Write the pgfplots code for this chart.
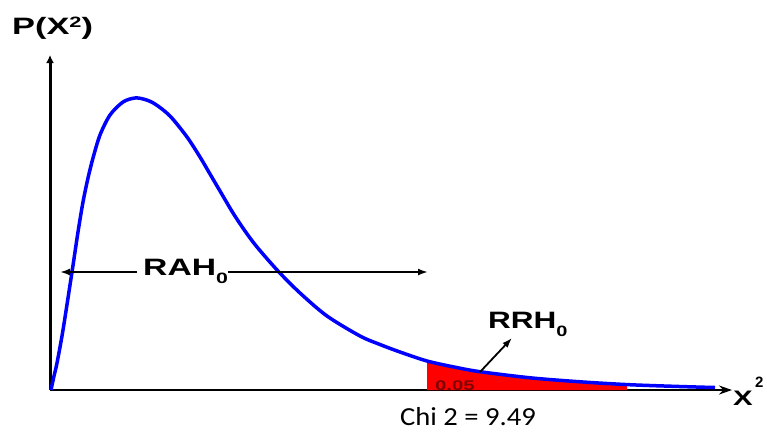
\documentclass[border=0pt]{standalone}
\usepackage{pgfplots}
\pgfplotsset{compat=1.18}
\usepackage{graphicx}
\usepackage{fontspec}
\usetikzlibrary{arrows.meta}
\setmainfont{Liberation Sans}
\newfontfamily\calib{Carlito}
\definecolor{tailred}{RGB}{255,0,0}
\definecolor{darkred}{RGB}{125,0,0}

% chi-square curve (x: pixels from origin, y: height)
\pgfplotstableread{
x y
1 0
4 14
7 27
13 60
22 118
28 158
33 188
38 212
43 232
50 255
60 275
73 288
85 292
95 290.5
105 286
120 274
137 253
150 233
160 216
170 199
183 177
195 159
207 143
228 119
250 97
277 74
310 54
330 45.5
350 38
377 29
405 22.8
430 18.3
480 12.2
530 8.2
577 5.4
620 3.8
653 2.8
665 2.5
}\curve

\begin{document}
\begin{tikzpicture}
\begin{axis}[
    x=1pt, y=1pt,
    xmin=0, xmax=682,
    ymin=0, ymax=335,
    enlargelimits=false,
    axis lines=left,
    ticks=none,
    clip=false,
    x axis line style={line width=2.3pt, -{Stealth[length=13pt,width=9pt]}},
    y axis line style={line width=3pt, -{Latex[length=8pt,width=8pt]}},
]
% rejection region
\addplot[draw=none, fill=tailred] coordinates {
    (377,0) (377,29) (405,22.8) (430,18.3) (480,12.2) (530,8.2) (577,5.4) (577,0)
} -- cycle;
\draw[line width=1pt, black!70] (axis cs:377,0) -- (axis cs:377,29);

\addplot[blue, line width=3.5pt, smooth, tension=0.5] table {\curve};

% RAH arrow
\draw[line width=2pt, -{Latex[length=10pt,width=7pt]}] (axis cs:87,118) -- (axis cs:10,118);
\draw[line width=2pt, -{Latex[length=10pt,width=7pt]}] (axis cs:178,118) -- (axis cs:378,118);
% RRH arrow
\draw[line width=1.8pt, -{Latex[length=10pt,width=7pt]}] (axis cs:430,18) -- (axis cs:462,52);

\node[anchor=base west, inner sep=0] at (axis cs:-38,355)
    {\scalebox{1.45}[1]{\fontsize{23.7}{28}\selectfont\bfseries P(X\raisebox{8pt}{\fontsize{15}{15}\selectfont 2})}};
\node[anchor=base west, inner sep=0] at (axis cs:93,115)
    {\scalebox{1.42}[1]{\fontsize{23.7}{28}\selectfont\bfseries RAH\raisebox{-8pt}{\fontsize{15}{15}\selectfont 0}}};
\node[anchor=base west, inner sep=0] at (axis cs:438,62)
    {\scalebox{1.33}[1]{\fontsize{23.7}{28}\selectfont\bfseries RRH\raisebox{-8pt}{\fontsize{15}{15}\selectfont 0}}};
\node[anchor=base west, inner sep=0, text=darkred] at (axis cs:385,0)
    {\scalebox{1.45}[1]{\fontsize{14}{16}\selectfont\bfseries 0.05}};
\node[anchor=base west, inner sep=0] at (axis cs:683,-15)
    {\scalebox{1.4}[1]{\fontsize{21}{23}\selectfont\bfseries X}};
\node[anchor=base west, inner sep=0] at (axis cs:705,3)
    {\fontsize{15}{17}\selectfont\bfseries 2};
\node[anchor=base west, inner sep=0] at (axis cs:350,-35)
    {\scalebox{1.1}[1]{\calib\fontsize{26}{30}\selectfont Chi 2 = 9.49}};

\coordinate (bl) at (axis cs:-50,-42);
\coordinate (tr) at (axis cs:717,390);
\end{axis}
\pgfresetboundingbox
\path[use as bounding box] (bl) rectangle (tr);
\end{tikzpicture}
\end{document}
